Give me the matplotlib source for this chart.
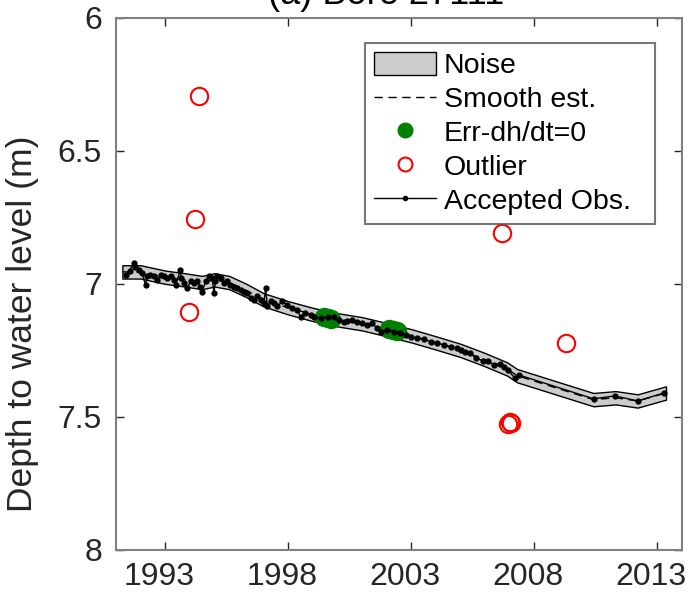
import matplotlib
matplotlib.use("Agg")
import matplotlib.pyplot as plt
import matplotlib.transforms as mtransforms
import numpy as np
from matplotlib.patches import Patch
from matplotlib.lines import Line2D

plt.rcParams['font.family'] = ['Liberation Sans', 'DejaVu Sans']

# accepted observations (decimal year, depth to water level in m)
obs_year = [1991.39, 1991.55, 1991.72, 1991.79, 1991.93, 1992.06, 1992.20, 1992.27,
            1992.40, 1992.54, 1992.67, 1992.81, 1992.94, 1993.08, 1993.22, 1993.35,
            1993.42, 1993.62, 1993.65, 1993.76, 1993.89, 1994.03, 1994.16, 1994.30,
            1994.43, 1994.50, 1994.64, 1994.77, 1994.91, 1994.98, 1995.04, 1995.11,
            1995.25, 1995.38, 1995.52, 1995.65, 1995.79, 1995.93, 1996.06, 1996.20,
            1996.33, 1996.47, 1996.60, 1996.74, 1996.88, 1997.01, 1997.08, 1997.15,
            1997.28, 1997.42, 1997.55, 1997.75, 1997.96, 1998.16, 1998.36, 1998.50,
            1998.70, 1998.91, 1999.04, 1999.31, 1999.60, 1999.85, 2000.06, 2000.26,
            2000.40, 2000.60, 2000.80, 2001.01, 2001.21, 2001.41, 2001.62, 2001.75,
            2002.02, 2002.29, 2002.56, 2002.77, 2002.97, 2003.24, 2003.51, 2003.78,
            2004.06, 2004.33, 2004.60, 2004.87, 2005.00, 2005.20, 2005.37, 2005.61,
            2005.90, 2006.10, 2006.35, 2006.59, 2006.75, 2006.91, 2007.20, 2007.36,
            2010.41, 2011.27, 2012.20, 2013.26]
obs_depth = [6.966, 6.950, 6.922, 6.935, 6.947, 6.960, 7.004, 6.972,
             6.966, 6.972, 6.985, 6.966, 6.972, 6.979, 6.972, 6.985,
             7.004, 6.947, 6.979, 6.997, 7.016, 6.991, 6.997, 6.991,
             7.010, 7.029, 6.991, 6.972, 6.979, 7.035, 6.991, 6.972,
             6.979, 6.997, 6.991, 7.004, 7.010, 7.016, 7.022, 7.029,
             7.035, 7.054, 7.060, 7.047, 7.060, 7.072, 7.016, 7.085,
             7.066, 7.072, 7.085, 7.066, 7.079, 7.091, 7.098, 7.123,
             7.110, 7.117, 7.123, 7.129, 7.126, 7.123, 7.135, 7.142,
             7.138, 7.135, 7.142, 7.148, 7.154, 7.148, 7.167, 7.179,
             7.173, 7.179, 7.183, 7.192, 7.198, 7.204, 7.208, 7.217,
             7.223, 7.229, 7.236, 7.242, 7.250, 7.255, 7.259, 7.278,
             7.289, 7.289, 7.305, 7.300, 7.312, 7.323, 7.353, 7.342,
             7.432, 7.421, 7.440, 7.410]

# smooth estimate and its noise half-width
smooth_year = [1991.26, 1992.0, 1993.0, 1993.8, 1994.5, 1995.0, 1995.6, 1996.3,
               1997.0, 1998.0, 1999.0, 2000.0, 2001.0, 2002.0, 2003.0, 2004.0,
               2005.0, 2006.0, 2006.9, 2007.3, 2010.4, 2011.3, 2012.2, 2013.35]
smooth_depth = [6.955, 6.955, 6.975, 6.985, 6.995, 6.985, 6.995, 7.025,
                7.060, 7.090, 7.115, 7.135, 7.150, 7.172, 7.195, 7.222,
                7.250, 7.285, 7.320, 7.345, 7.435, 7.428, 7.440, 7.410]
noise_half = 0.025

# observations flagged as err-dh/dt=0
flat_year = [1999.45, 1999.60, 1999.75, 2002.10, 2002.25, 2002.40]
flat_depth = [7.126, 7.128, 7.131, 7.171, 7.173, 7.176]

# outliers
out_year = [1994.39, 1994.23, 1993.95, 2006.67, 2009.27, 2006.93, 2007.00, 2007.06]
out_depth = [6.293, 6.756, 7.105, 6.808, 7.222, 7.527, 7.520, 7.524]

fig = plt.figure(figsize=(6.88, 5.96), dpi=100)
ax = fig.add_axes([0.1686, 0.0772, 0.8227, 0.893])

sy = np.array(smooth_year)
sd = np.array(smooth_depth)
ax.fill_between(sy, sd - noise_half, sd + noise_half, facecolor="#cccccc",
                edgecolor="black", linewidth=1.0, zorder=1)
ax.plot(sy, sd, color="black", linestyle=(0, (6, 4)), linewidth=1.0, zorder=2)
ax.plot(flat_year, flat_depth, "o", color="#008000", markersize=14,
        markeredgewidth=0, zorder=3)
ax.plot(out_year, out_depth, "o", markerfacecolor="none", markeredgecolor="red",
        markersize=12.5, markeredgewidth=1.5, zorder=4)
ax.plot(obs_year, obs_depth, "-", color="black", linewidth=1.0, marker="o",
        markersize=3.5, zorder=5)

ax.set_xlim(1991, 2014)
ax.set_ylim(8, 6)
ax.set_xticks([1993, 1998, 2003, 2008, 2013])
ax.set_yticks([6, 6.5, 7, 7.5, 8])
ax.set_yticklabels(["6", "6.5", "7", "7.5", "8"])
ax.tick_params(direction="in", length=6, width=1, top=True, right=True,
               labelsize=23, colors="#262626", pad=10)
ax.tick_params(axis="x", pad=9)
shift = mtransforms.ScaledTranslation(-6 / 100, 0, fig.dpi_scale_trans)
for lbl in ax.get_xticklabels():
    lbl.set_transform(lbl.get_transform() + shift)
for sp in ax.spines.values():
    sp.set_color("#808080")
    sp.set_linewidth(1.5)
ax.tick_params(color="#262626")
ax.set_ylabel("Depth to water level (m)", fontsize=25.5, color="#262626")
ax.yaxis.label.set_va("center")
ax.yaxis.set_label_coords(-0.165, 0.425)

fig.text(0.561, 1 - 4 / 596, "(a) Bore 27111", ha="center", va="baseline",
         fontsize=26, color="black")

handles = [
    Patch(facecolor="#cccccc", edgecolor="black", linewidth=1.0),
    Line2D([], [], color="black", linestyle=(0, (6, 4)), linewidth=1.0),
    Line2D([], [], linestyle="none", marker="o", color="#008000", markersize=11.5,
           markeredgewidth=0),
    Line2D([], [], linestyle="none", marker="o", markerfacecolor="none",
           markeredgecolor="red", markersize=10, markeredgewidth=1.5),
    Line2D([], [], color="black", linewidth=1.0, marker="o", markersize=3),
]
labels = ["Noise", "Smooth est.", "Err-dh/dt=0", "Outlier", "Accepted Obs.  "]
leg = ax.legend(handles, labels, loc="upper right", bbox_to_anchor=(0.952, 0.952),
                fontsize=20.5, frameon=True, fancybox=False, borderaxespad=0,
                handlelength=2.2, handleheight=0.9, handletextpad=0.25,
                labelspacing=0.22, borderpad=0.3)
leg.get_frame().set_edgecolor("#555555")
leg.get_frame().set_linewidth(1.5)

fig.savefig("out.png", dpi=100)
